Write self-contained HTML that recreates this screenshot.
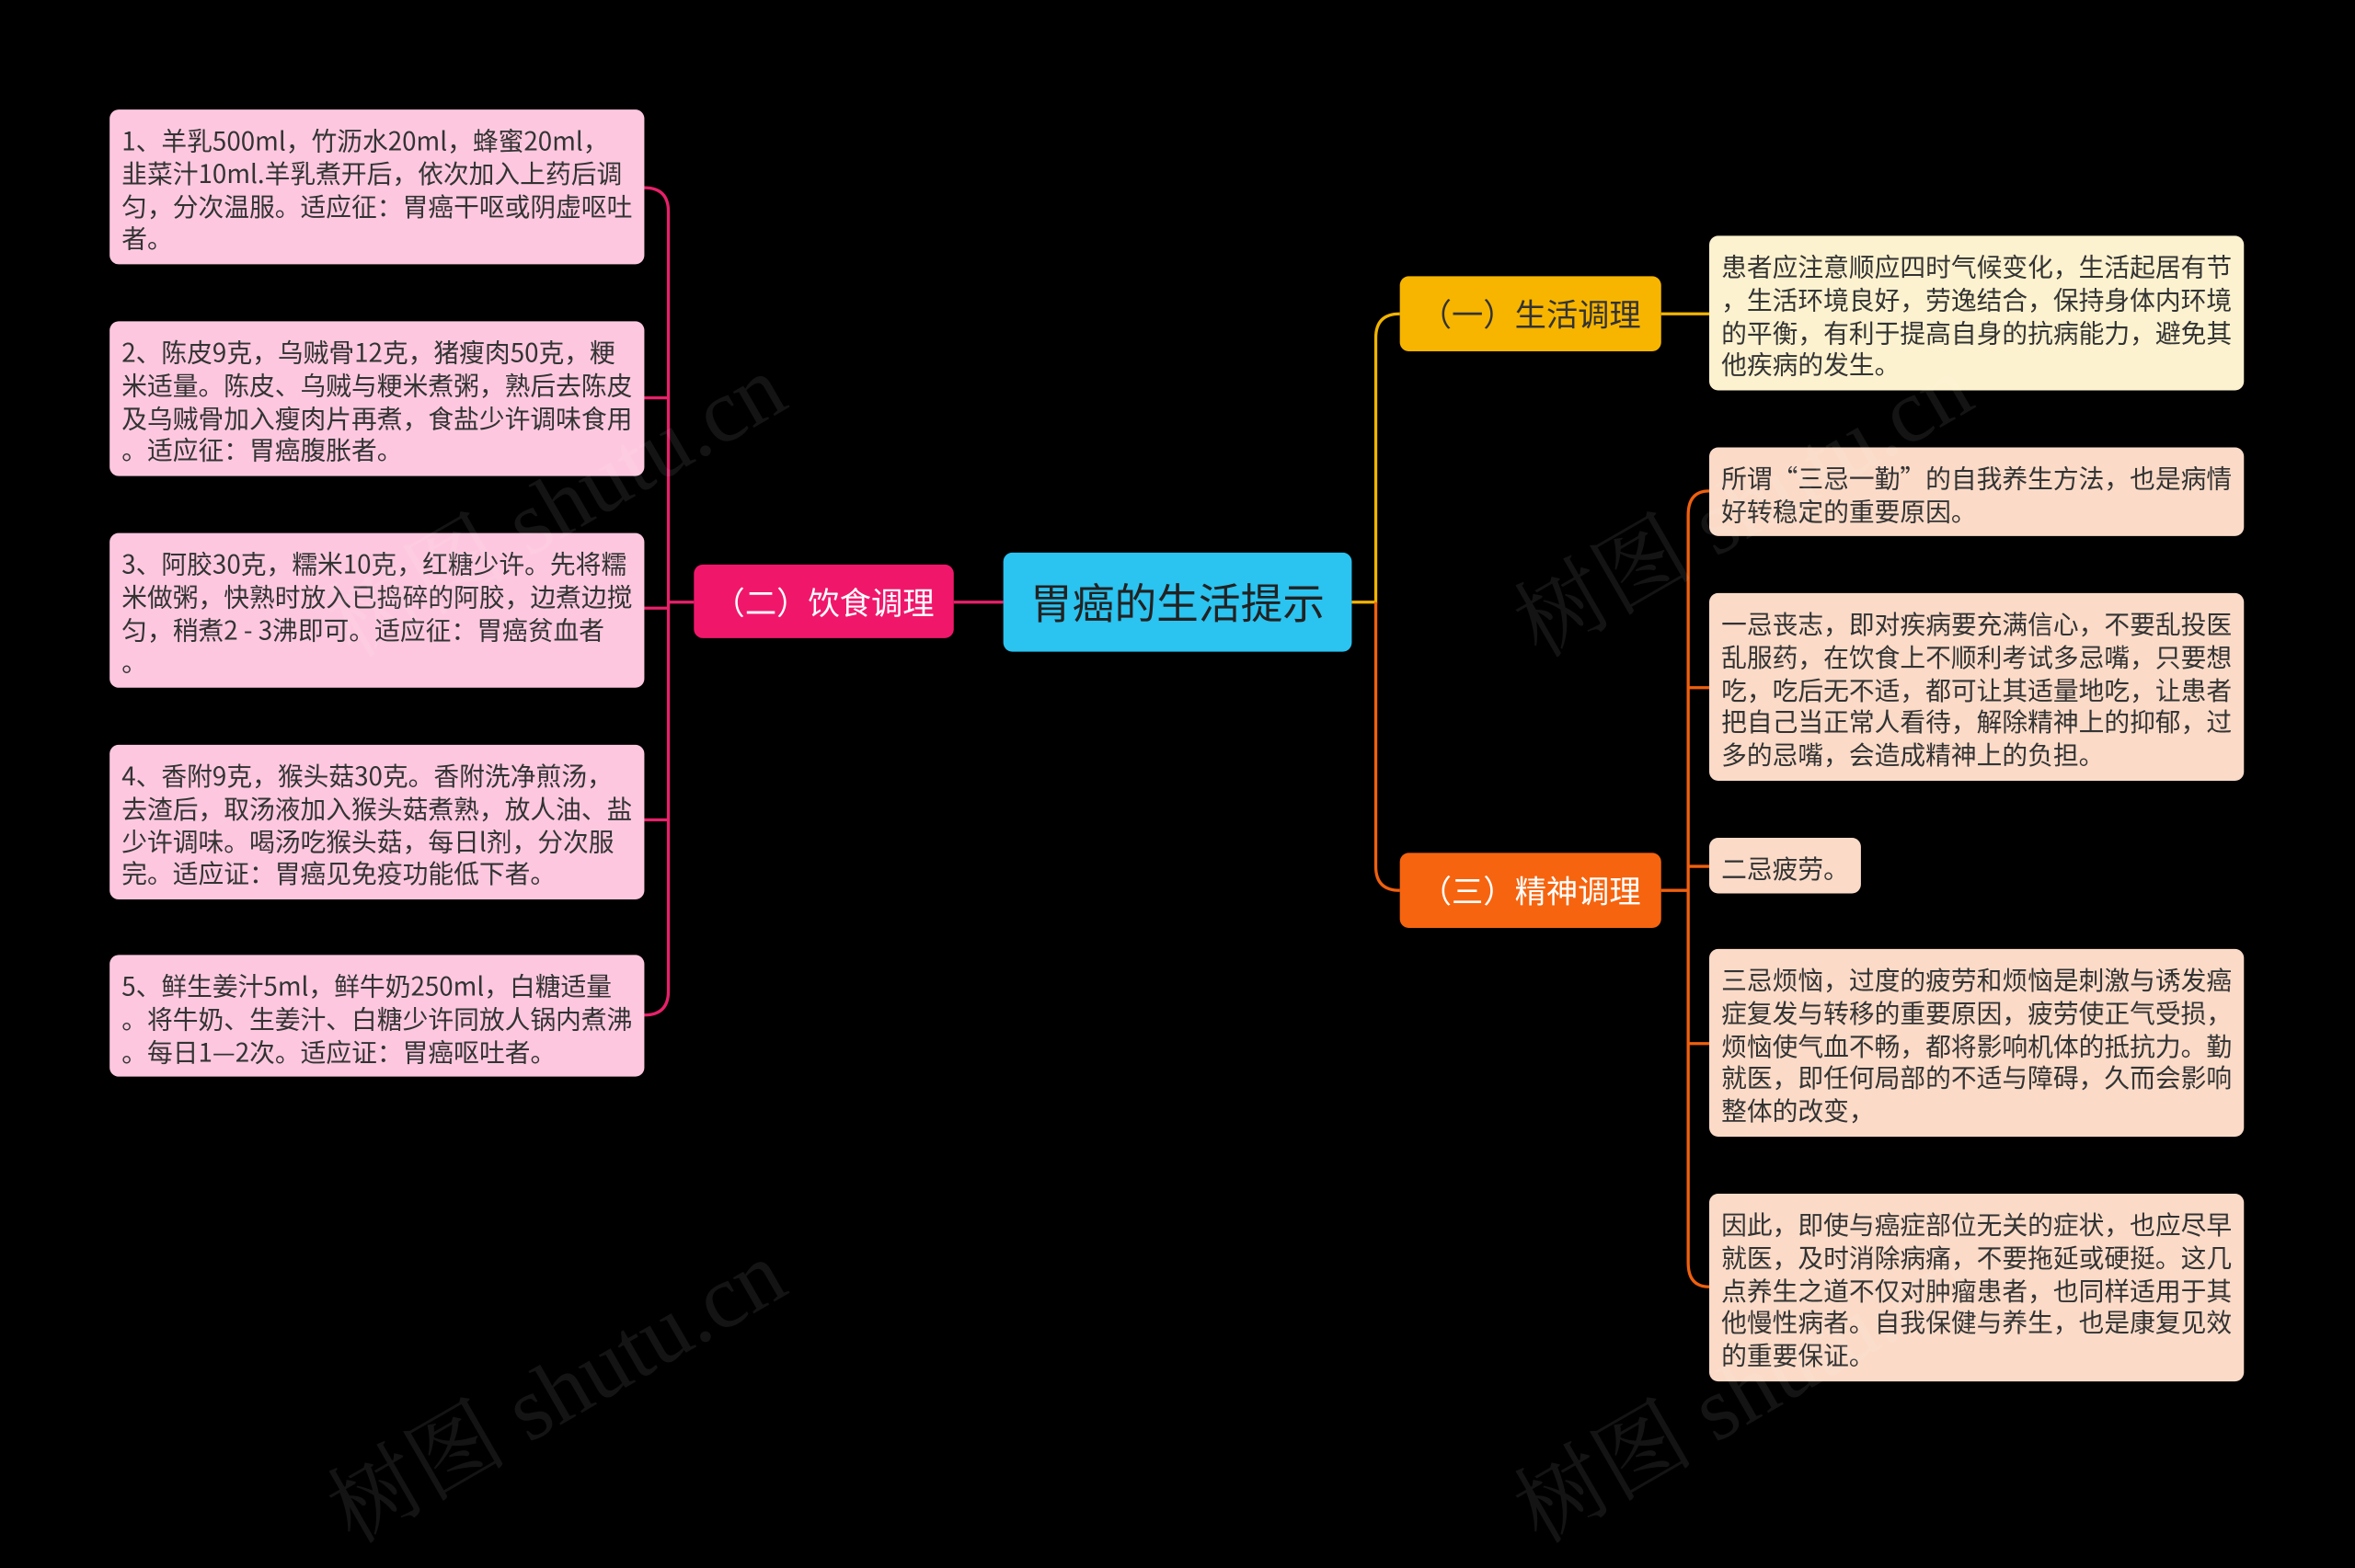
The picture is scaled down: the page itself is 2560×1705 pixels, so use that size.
<!DOCTYPE html>
<html><head><meta charset="utf-8"><style>
html,body{margin:0;padding:0;background:#000;}
body{width:2560px;height:1623px;overflow:hidden;position:relative;}
#w{position:absolute;left:0;top:0;width:1568px;height:994px;transform:scale(1.6327);transform-origin:0 0;font-family:"Noto Sans CJK SC","Liberation Sans",sans-serif;}
.n{position:absolute;box-sizing:border-box;border-radius:6px;}
.leaf{font-size:17px;line-height:21.8px;color:#333;padding:9px 8px 7px;white-space:nowrap;overflow:hidden;}
.pk{background:#fdc8df;left:73px;width:356px;}
.ye{background:#fdf2cf;}
.or{background:#fbdbc8;}
.br{font-size:21px;display:flex;align-items:center;justify-content:center;}
svg{position:absolute;left:0;top:0;}
.wm{position:absolute;font-family:"Liberation Serif","Noto Serif CJK SC",serif;font-size:60px;color:rgba(255,255,255,0.08);transform:rotate(-30deg);white-space:nowrap;}
</style></head><body><div id="w">
<svg width="1568" height="994" fill="none" stroke-width="2">
<line x1="635" y1="401" x2="668" y2="401" stroke="#e8206a"/>
<path d="M462 401 H445 M429 125 Q445 125 445 141 V660 Q445 676 429 676 M429 265 H445 M429 405 H445 M429 546 H445" stroke="#e8206a"/>
<path d="M900 401 H916 V225 Q916 209 932 209" stroke="#f2b400"/>
<path d="M916 401 V577 Q916 593 932 593" stroke="#f0600e"/>
<line x1="1106" y1="209" x2="1138" y2="209" stroke="#f2b400"/>
<path d="M1106 593 H1124 M1138 327 Q1124 327 1124 343 V841 Q1124 857 1138 857 M1124 458 H1138 M1124 577 H1138 M1124 695 H1138" stroke="#f0600e"/>
</svg>
<div class="n br" style="left:668px;top:368px;width:232px;height:66px;background:#2bc3f0;color:#222;font-size:28px;">胃癌的生活提示</div>
<div class="n br" style="left:462px;top:376px;width:173px;height:49px;background:#f0176b;color:#fff;">（二）饮食调理</div>
<div class="n br" style="left:932px;top:184px;width:174px;height:50px;background:#f7b500;color:#333;">（一）生活调理</div>
<div class="n br" style="left:932px;top:568px;width:174px;height:50px;background:#f6640f;color:#fff;">（三）精神调理</div>

<div class="n leaf pk" style="top:73px;height:103px;">1、羊乳500ml，竹沥水20ml，蜂蜜20ml，<br>韭菜汁10ml.羊乳煮开后，依次加入上药后调<br>匀，分次温服。适应征：胃癌干呕或阴虚呕吐<br>者。</div>
<div class="n leaf pk" style="top:214px;height:103px;">2、陈皮9克，乌贼骨12克，猪瘦肉50克，粳<br>米适量。陈皮、乌贼与粳米煮粥，熟后去陈皮<br>及乌贼骨加入瘦肉片再煮，食盐少许调味食用<br>。适应征：胃癌腹胀者。</div>
<div class="n leaf pk" style="top:355px;height:103px;">3、阿胶30克，糯米10克，红糖少许。先将糯<br>米做粥，快熟时放入已捣碎的阿胶，边煮边搅<br>匀，稍煮2 - 3沸即可。适应征：胃癌贫血者<br>。</div>
<div class="n leaf pk" style="top:496px;height:103px;">4、香附9克，猴头菇30克。香附洗净煎汤，<br>去渣后，取汤液加入猴头菇煮熟，放人油、盐<br>少许调味。喝汤吃猴头菇，每日l剂，分次服<br>完。适应证：胃癌见免疫功能低下者。</div>
<div class="n leaf pk" style="top:636px;height:81px;">5、鲜生姜汁5ml，鲜牛奶250ml，白糖适量<br>。将牛奶、生姜汁、白糖少许同放人锅内煮沸<br>。每日1—2次。适应证：胃癌呕吐者。</div>

<div class="n leaf ye" style="left:1138px;top:157px;width:356px;height:103px;">患者应注意顺应四时气候变化，生活起居有节<br>，生活环境良好，劳逸结合，保持身体内环境<br>的平衡，有利于提高自身的抗病能力，避免其<br>他疾病的发生。</div>
<div class="n leaf or" style="left:1138px;top:298px;width:356px;height:59px;">所谓“三忌一勤”的自我养生方法，也是病情<br>好转稳定的重要原因。</div>
<div class="n leaf or" style="left:1138px;top:395px;width:356px;height:125px;">一忌丧志，即对疾病要充满信心，不要乱投医<br>乱服药，在饮食上不顺利考试多忌嘴，只要想<br>吃，吃后无不适，都可让其适量地吃，让患者<br>把自己当正常人看待，解除精神上的抑郁，过<br>多的忌嘴，会造成精神上的负担。</div>
<div class="n leaf or" style="left:1138px;top:558px;width:101px;height:37px;">二忌疲劳。</div>
<div class="n leaf or" style="left:1138px;top:632px;width:356px;height:125px;">三忌烦恼，过度的疲劳和烦恼是刺激与诱发癌<br>症复发与转移的重要原因，疲劳使正气受损，<br>烦恼使气血不畅，都将影响机体的抵抗力。勤<br>就医，即任何局部的不适与障碍，久而会影响<br>整体的改变，</div>
<div class="n leaf or" style="left:1138px;top:795px;width:356px;height:125px;">因此，即使与癌症部位无关的症状，也应尽早<br>就医，及时消除病痛，不要拖延或硬挺。这几<br>点养生之道不仅对肿瘤患者，也同样适用于其<br>他慢性病者。自我保健与养生，也是康复见效<br>的重要保证。</div>
<div class="wm" style="left:200px;top:290px;">树图 shutu.cn</div>
<div class="wm" style="left:200px;top:880px;">树图 shutu.cn</div>
<div class="wm" style="left:990px;top:290px;">树图 shutu.cn</div>
<div class="wm" style="left:990px;top:880px;">树图 shutu.cn</div>
</div></body></html>
